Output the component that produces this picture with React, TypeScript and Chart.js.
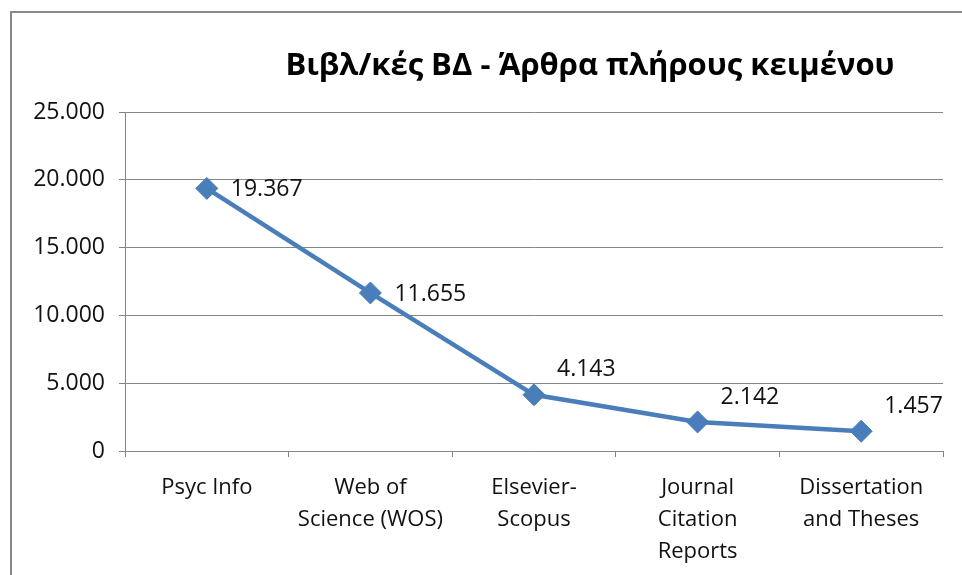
import React, { useEffect, useRef } from "react";
import { Chart, registerables } from "chart.js";

Chart.register(...registerables);

const TITLE = "Βιβλ/κές ΒΔ - Άρθρα πλήρους κειμένου";
const categories: string[][] = [
  ["Psyc Info"],
  ["Web of", "Science (WOS)"],
  ["Elsevier-", "Scopus"],
  ["Journal", "Citation", "Reports"],
  ["Dissertation", "and Theses"],
];
const values: number[] = [19367, 11655, 4143, 2142, 1457];
// label placement: 'right' beside the point, 'above' raised above the point
const labelPlacement: string[] = ["right", "right", "above", "above", "above"];
const yMin = 0;
const yMax = 25000;
const yStep = 5000;

const FONT = "'Open Sans', 'Noto Sans', sans-serif";
const LINE_COLOR = "#4a7ebb";
const GRID_COLOR = "#868686";

const fmt = (v: number) =>
  Math.round(v)
    .toString()
    .replace(/\B(?=(\d{3})+(?!\d))/g, ".");

const framePlugin = {
  id: "frame",
  beforeDraw(chart: any) {
    const ctx = chart.ctx;
    ctx.save();
    ctx.fillStyle = "#ffffff";
    ctx.fillRect(0, 0, chart.width, chart.height);
    ctx.strokeStyle = "#888888";
    ctx.lineWidth = 2;
    ctx.beginPath();
    ctx.moveTo(11, chart.height + 5);
    ctx.lineTo(11, 12);
    ctx.lineTo(chart.width + 5, 12);
    ctx.stroke();
    ctx.restore();
  },
  afterDraw(chart: any) {
    const ctx = chart.ctx;
    ctx.save();
    ctx.fillStyle = "#000000";
    ctx.font = `bold 31px ${FONT}`;
    ctx.textAlign = "center";
    ctx.textBaseline = "middle";
    ctx.fillText(TITLE, 590, 66);
    ctx.restore();
  },
};

const labelPlugin = {
  id: "valueLabels",
  afterDatasetsDraw(chart: any) {
    const ctx = chart.ctx;
    const meta = chart.getDatasetMeta(0);
    ctx.save();
    ctx.fillStyle = "#111111";
    ctx.font = `23px ${FONT}`;
    ctx.textAlign = "left";
    ctx.textBaseline = "middle";
    meta.data.forEach((pt: any, i: number) => {
      const place = labelPlacement[i];
      const dx = place === "right" ? 24 : 23;
      const dy = place === "right" ? 1 : -25;
      ctx.fillText(fmt(values[i]), pt.x + dx, pt.y + dy);
    });
    ctx.restore();
  },
};

export default function App() {
  const ref = useRef<HTMLCanvasElement | null>(null);
  useEffect(() => {
    if (!ref.current) return;
    const chart = new Chart(ref.current, {
      type: "line",
      data: {
        labels: categories as any,
        datasets: [
          {
            data: values,
            borderColor: LINE_COLOR,
            backgroundColor: LINE_COLOR,
            borderWidth: 4.5,
            pointStyle: "rectRot",
            pointRadius: 11,
            pointBorderWidth: 1,
            pointBackgroundColor: LINE_COLOR,
            pointBorderColor: LINE_COLOR,
            tension: 0,
          },
        ],
      },
      options: {
        animation: false,
        responsive: false,
        layout: { padding: { top: 112, right: 19, left: 0, bottom: 0 } },
        plugins: {
          legend: { display: false },
          title: { display: false },
          tooltip: { enabled: false },
        },
        scales: {
          x: {
            offset: true,
            afterFit: (s: any) => {
              s.height = 124;
            },
            grid: {
              offset: true,
              drawOnChartArea: false,
              drawTicks: true,
              tickLength: 6,
              color: GRID_COLOR,
            },
            border: { color: GRID_COLOR, width: 1 },
            ticks: {
              color: "#111111",
              font: { family: FONT, size: 22, lineHeight: 1.45 },
              padding: 15,
              maxRotation: 0,
              autoSkip: false,
            },
          },
          y: {
            min: yMin,
            max: yMax,
            afterFit: (s: any) => {
              s.width = 125;
            },
            grid: {
              color: GRID_COLOR,
              tickLength: 6,
            },
            border: { color: GRID_COLOR, width: 1 },
            ticks: {
              stepSize: yStep,
              color: "#111111",
              font: { family: FONT, size: 23 },
              padding: 14,
              callback: (v: any) => fmt(Number(v)),
            },
          },
        },
      },
      plugins: [framePlugin, labelPlugin],
    });
    return () => chart.destroy();
  }, []);
  return (
    <div style={{ position: "fixed", left: 0, top: 0, width: 962, height: 575 }}>
      <canvas ref={ref} width={962} height={575} style={{ display: "block" }} />
    </div>
  );
}
